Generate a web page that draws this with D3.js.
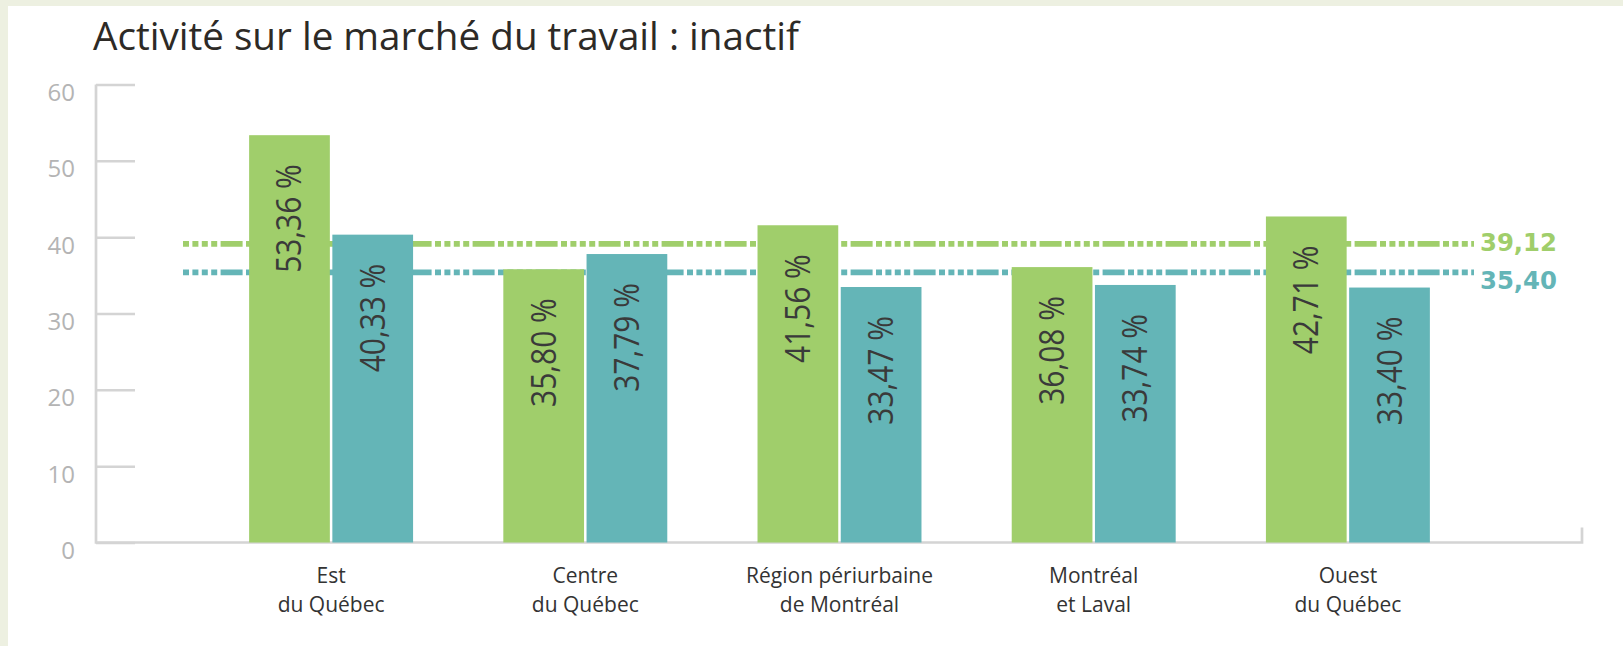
<!DOCTYPE html>
<html>
<head>
<meta charset="utf-8">
<script src="https://cdn.jsdelivr.net/npm/d3@7"></script>
<style>
  html, body { margin: 0; padding: 0; background: #ffffff; }
  svg { display: block; }
</style>
</head>
<body>
<div id="container"></div>
<script>
// Bar chart — Activité sur le marché du travail : inactif
// Two series per region, rotated % labels inside bars, dotted average lines

// ---------------------------------------------------------------------------
// Data
// ---------------------------------------------------------------------------
const title        = 'Activité sur le marché du travail : inactif';
const categories   = ['Est du Québec', 'Centre du Québec', 'Région périurbaine de Montréal', 'Montréal et Laval', 'Ouest du Québec'];
const categoryRows = [['Est', 'du Québec'], ['Centre', 'du Québec'], ['Région périurbaine', 'de Montréal'], ['Montréal', 'et Laval'], ['Ouest', 'du Québec']];
const seriesNames  = ['serie1', 'serie2'];
const valuesSerie1 = [53.36, 35.80, 41.56, 36.08, 42.71];
const valuesSerie2 = [40.33, 37.79, 33.47, 33.74, 33.40];
const averages     = [39.12, 35.40];          // one per series
const yTicks       = [0, 10, 20, 30, 40, 50, 60];

// ---------------------------------------------------------------------------
// Helpers
// ---------------------------------------------------------------------------
const fr = d3.formatLocale({ decimal: ',', thousands: ' ', grouping: [3], currency: ['', ' €'] });
const fmt2 = fr.format('.2f');

// ---------------------------------------------------------------------------
// Main draw
// ---------------------------------------------------------------------------
function drawChart() {
  const W = 1623;
  const H = 646;

  const colors     = ['#a0ce6b', '#64b5b7'];
  const axisColor  = '#d4d4d4';
  const textColor  = '#333333';
  const font       = '"Open Sans", "Noto Sans", sans-serif';

  const svg = d3.select('#container')
    .append('svg')
    .attr('width', W)
    .attr('height', H);

  // ── Background + thin frame strips ─────────────────────────────────────
  svg.append('rect').attr('width', W).attr('height', H).attr('fill', '#ffffff');
  svg.append('rect').attr('x', 0).attr('y', 0).attr('width', W).attr('height', 6).attr('fill', '#edf0e1');
  svg.append('rect').attr('x', 0).attr('y', 0).attr('width', 8).attr('height', H).attr('fill', '#edf0e1');

  // ── Scales ─────────────────────────────────────────────────────────────
  const y = d3.scaleLinear().domain([0, 60]).range([542.5, 84.5]);

  const x0 = d3.scaleBand()
    .domain(categories)
    .range([204, 1475])
    .paddingInner(0.355)
    .paddingOuter(0.1775);

  const x1 = d3.scaleBand()
    .domain(seriesNames)
    .range([0, x0.bandwidth()])
    .paddingInner(0.03);

  const axisX   = 96;
  const axisEnd = 1582;

  // ── Title ──────────────────────────────────────────────────────────────
  svg.append('text')
    .attr('x', 93)
    .attr('y', 50)
    .attr('font-family', font)
    .attr('font-size', '38px')
    .attr('fill', '#2d2a26')
    .attr('textLength', 706)
    .attr('lengthAdjust', 'spacingAndGlyphs')
    .text(title);

  // ── Y axis (ticks point inward, labels on the left) ───────────────────
  const yAxis = d3.axisLeft(y)
    .tickValues(yTicks)
    .tickSize(-39)
    .tickPadding(21)
    .tickFormat(d3.format('d'));

  const gy = svg.append('g')
    .attr('transform', `translate(${axisX},0)`)
    .call(yAxis);
  gy.select('.domain').remove();
  gy.selectAll('line').attr('stroke', axisColor).attr('stroke-width', 2.5);
  gy.selectAll('text')
    .attr('dy', 16)
    .attr('fill', '#b4b4b4')
    .attr('font-family', font)
    .attr('font-size', '24px');

  // Axis frame: vertical + baseline + small right end tick
  svg.append('path')
    .attr('d', `M${axisX},${y(60)} L${axisX},${y(0)} L${axisEnd},${y(0)} L${axisEnd},${y(0) - 15}`)
    .attr('fill', 'none')
    .attr('stroke', axisColor)
    .attr('stroke-width', 2.7);

  // ── Average lines (behind bars) ────────────────────────────────────────
  const lineX0 = 183;
  const lineX1 = 1474;
  averages.forEach((v, i) => {
    svg.append('line')
      .attr('x1', lineX0)
      .attr('x2', lineX1)
      .attr('y1', y(v))
      .attr('y2', y(v))
      .attr('stroke', colors[i])
      .attr('stroke-width', 5.7)
      .attr('stroke-dasharray', '6,3.4,6,3.4,6,3.4,6,3.4,22,3.4');

    svg.append('text')
      .attr('x', 1480)
      .attr('y', y(v) + (i === 0 ? 7 : 17))
      .attr('font-family', '"DejaVu Sans", sans-serif')
      .attr('font-weight', 'bold')
      .attr('font-size', '24px')
      .attr('fill', colors[i])
      .attr('textLength', 77)
      .attr('lengthAdjust', 'spacingAndGlyphs')
      .text(fmt2(v));
  });

  // ── Bars ───────────────────────────────────────────────────────────────
  const rows = categories.map((c, i) => ({
    cat: c,
    vals: [valuesSerie1[i], valuesSerie2[i]],
  }));

  const groups = svg.selectAll('g.grp')
    .data(rows)
    .join('g')
    .attr('class', 'grp')
    .attr('transform', (d) => `translate(${x0(d.cat)},0)`);

  const bars = groups.selectAll('g.bar')
    .data((d) => d.vals.map((v, j) => ({ v, s: seriesNames[j], j })))
    .join('g')
    .attr('class', 'bar');

  bars.append('rect')
    .attr('x', (d) => x1(d.s))
    .attr('y', (d) => y(d.v))
    .attr('width', x1.bandwidth())
    .attr('height', (d) => y(0) - y(d.v))
    .attr('fill', (d) => colors[d.j]);

  // Rotated value labels, read bottom-to-top, ending near the bar top
  const labels = bars.append('text')
    .attr('transform', (d) => `translate(${x1(d.s) + x1.bandwidth() / 2 + 12},${y(d.v) + 29}) rotate(-90)`)
    .attr('text-anchor', 'end')
    .attr('font-family', font)
    .attr('font-size', '34px')
    .attr('fill', '#3a3a3a')
    .text((d) => `${fmt2(d.v)} %`);

  labels.each(function () {
    const natural = this.getComputedTextLength();
    d3.select(this)
      .attr('textLength', natural * 0.88)
      .attr('lengthAdjust', 'spacingAndGlyphs');
  });

  // ── Category labels (two lines) ────────────────────────────────────────
  categories.forEach((c, i) => {
    const cx = x0(c) + x0.bandwidth() / 2;
    const t = svg.append('text')
      .attr('text-anchor', 'middle')
      .attr('font-family', font)
      .attr('font-size', '21px')
      .attr('fill', textColor);
    categoryRows[i].forEach((line, k) => {
      t.append('tspan')
        .attr('x', cx)
        .attr('y', 583 + k * 29)
        .text(line);
    });
  });
}

drawChart();
</script>
</body>
</html>
